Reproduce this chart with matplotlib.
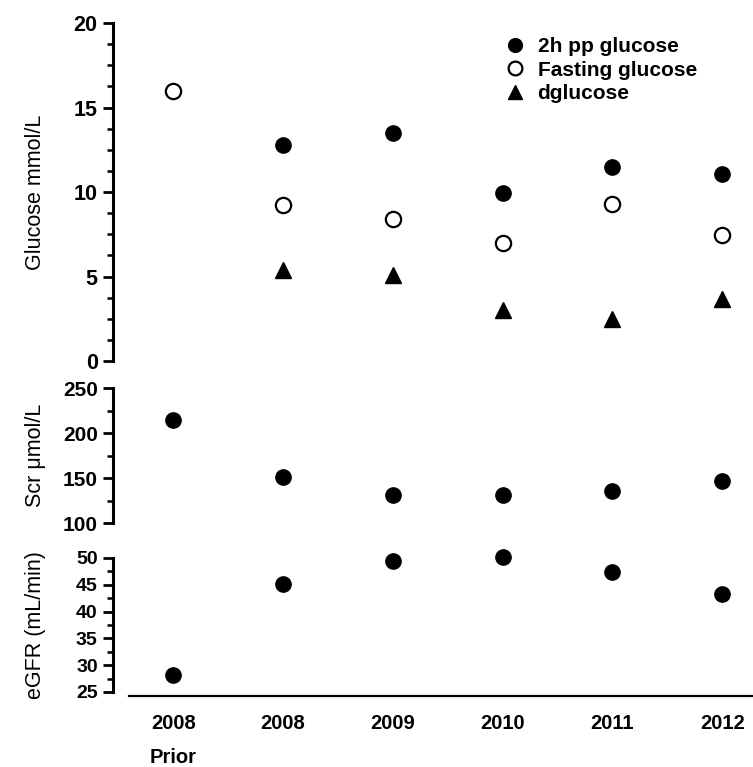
import numpy as np
import matplotlib
matplotlib.use('Agg')
import matplotlib.pyplot as plt
from matplotlib.ticker import MultipleLocator

# data
years = ['2008\nPrior', '2008', '2009', '2010', '2011', '2012']
pp2h = [np.nan, 12.8, 13.5, 9.95, 11.5, 11.05]
fasting = [15.95, 9.25, 8.4, 7.0, 9.3, 7.45]
dglucose = [np.nan, 5.4, 5.1, 3.0, 2.5, 3.65]
scr = [215, 151, 131, 131.5, 136, 146.5]
egfr = [28.1, 45.2, 49.4, 50.2, 47.3, 43.2]

plt.rcParams['font.family'] = ['Liberation Sans', 'DejaVu Sans']

x = np.arange(len(years))
fig = plt.figure(figsize=(7.53, 7.67), dpi=100)

left, right = 0.150, 1.0
ax1 = fig.add_axes([left, 0.5293, right - left, 0.970 - 0.5293])
ax2 = fig.add_axes([left, 0.3181, right - left, 0.4941 - 0.3181])
ax3 = fig.add_axes([left, 0.0978, right - left, 0.2725 - 0.0978])

ms = 11
ax1.plot(x, pp2h, 'o', color='black', ms=ms, label='2h pp glucose', clip_on=False)
ax1.plot(x, fasting, 'o', mfc='white', mec='black', mew=1.6, ms=ms,
         label='Fasting glucose', clip_on=False)
ax1.plot(x, dglucose, '^', color='black', ms=ms, label='dglucose', clip_on=False)
ax2.plot(x, scr, 'o', color='black', ms=ms, clip_on=False)
ax3.plot(x, egfr, 'o', color='black', ms=ms, clip_on=False)

ax1.set_ylim(0, 20)
ax1.yaxis.set_major_locator(MultipleLocator(5))
ax1.yaxis.set_minor_locator(MultipleLocator(1.25))
ax2.set_ylim(100, 250)
ax2.yaxis.set_major_locator(MultipleLocator(50))
ax2.yaxis.set_minor_locator(MultipleLocator(25))
ax3.set_ylim(25, 50)
ax3.yaxis.set_major_locator(MultipleLocator(5))
ax3.yaxis.set_minor_locator(MultipleLocator(2.5))

sizes = [15.5, 15, 14]
for ax, fs in zip([ax1, ax2, ax3], sizes):
    ax.set_xlim(-0.55, 5.28)
    ax.spines['top'].set_visible(False)
    ax.spines['right'].set_visible(False)
    ax.spines['left'].set_linewidth(2.2)
    ax.tick_params(axis='y', which='major', length=7, width=2, labelsize=fs, pad=4)
    ax.tick_params(axis='y', which='minor', length=4, width=1.8)
    for t in ax.get_yticklabels():
        t.set_fontweight('bold')

for ax in [ax1, ax2]:
    ax.spines['bottom'].set_visible(False)
    ax.set_xticks([])

ax3.spines['bottom'].set_bounds(-0.4, 5.28)
ax3.spines['bottom'].set_position(('outward', 3))
ax3.spines['bottom'].set_linewidth(1.6)
ax3.set_xticks(x)
ax3.set_xticklabels(years, fontsize=14.5, fontweight='bold', linespacing=2.0, va='top')
ax3.tick_params(axis='x', length=0, pad=13)

ax1.set_ylabel('Glucose mmol/L', fontsize=15.5)
ax2.set_ylabel('Scr \u03bcmol/L', fontsize=15.5)
ax3.set_ylabel('eGFR (mL/min)', fontsize=15.5)
for ax in [ax1, ax2, ax3]:
    ax.yaxis.set_label_coords(-0.105, 0.5)

ax1.legend(loc='upper left', bbox_to_anchor=(0.595, 0.988), frameon=False,
           prop={'weight': 'bold', 'size': 15}, handlelength=1, handletextpad=0.6,
           labelspacing=0.2, markerscale=0.9, borderpad=0)

fig.savefig('out.png', dpi=100)
